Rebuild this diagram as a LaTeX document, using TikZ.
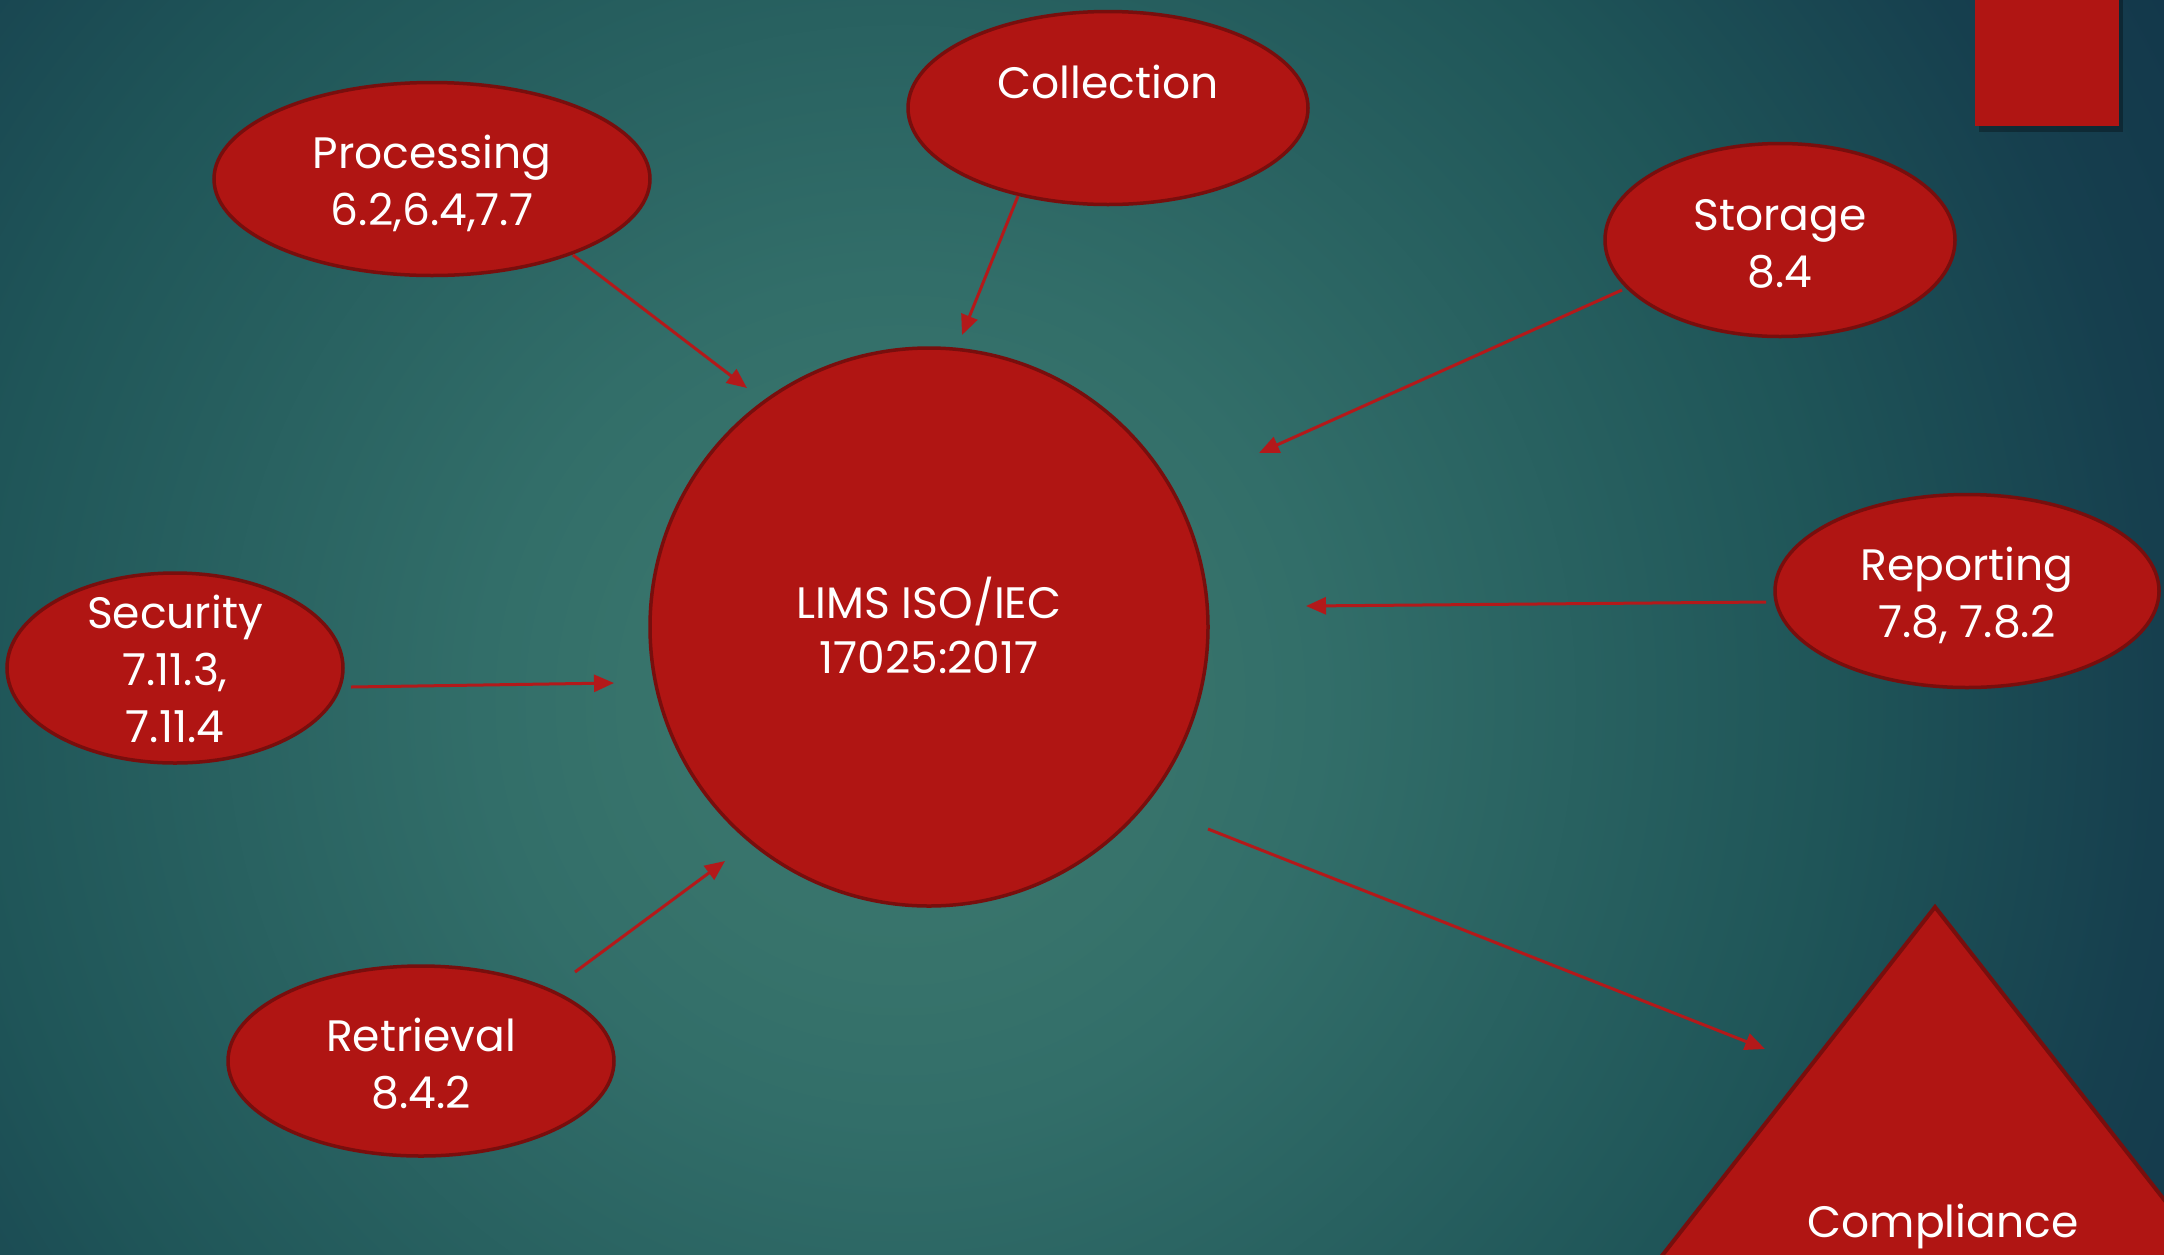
\documentclass[tikz,border=0pt]{standalone}
\usepackage{fontspec}
\setmainfont{Poppins}
\usetikzlibrary{shapes.geometric,arrows.meta}
\definecolor{redfill}{HTML}{B01513}
\definecolor{redline}{HTML}{780E0D}
\definecolor{arrowred}{HTML}{B3191A}
\definecolor{bga}{HTML}{3C796F}
\definecolor{bgb}{HTML}{37736B}
\definecolor{bgc}{HTML}{326E69}
\definecolor{bgd}{HTML}{1F5558}
\definecolor{bge}{HTML}{163F4E}
\definecolor{bgf}{HTML}{12364A}
\pgfdeclareradialshading{bgshade}{\pgfpoint{0bp}{0bp}}{color(0bp)=(bga); color(4.5bp)=(bgb); color(7bp)=(bgc); color(15.5bp)=(bgd); color(21bp)=(bge); color(25bp)=(bgf); color(50bp)=(bgf)}
\begin{document}
\begin{tikzpicture}[x=1pt,y=-1pt,
  blob/.style={ellipse,fill=redfill,draw=redline,line width=3.5pt,inner sep=0pt},
  lbl/.style={text=white,align=center,inner sep=0pt,font=\fontsize{44}{57}\selectfont},
  conn/.style={draw=arrowred,line width=3pt,-{Triangle[length=20pt,width=17pt]}}]
\useasboundingbox (0,0) rectangle (2164,1254);
\begin{scope}
\clip (0,0) rectangle (2164,1254);
\shade[shading=bgshade] (900,700) circle[radius=1500];
% corner rectangle
\fill[black,opacity=0.3] (1979,0) rectangle (2123,132);
\fill[redfill] (1975,0) rectangle (2119,126);
% compliance triangle
\filldraw[fill=redfill,draw=redline,line width=4pt,line join=miter] (1935,907) -- (2321,1400) -- (1549,1400) -- cycle;
\end{scope}
\node[lbl] (tcomp) at (1943,1226) {Compliance};
% centre
\node[circle,fill=redfill,draw=redline,line width=3.5pt,minimum size=558pt,inner sep=0pt] (lims) at (929,627) {};
\node[lbl,font=\fontsize{44}{55}\selectfont] (tlims) at (929,625) {LIMS ISO/IEC\\17025:2017};
% ellipses
\node[blob,minimum width=400pt,minimum height=193pt] (coll) at (1108,108) {};
\node[lbl] (tcoll) at (1108,82) {Collection};
\node[blob,minimum width=436pt,minimum height=193pt] (proc) at (432,179) {};
\node[lbl] (tproc) at (432,183) {Processing\\6.2,6.4,7.7};
\node[blob,minimum width=350pt,minimum height=193pt] (stor) at (1780,240) {};
\node[lbl] (tstor) at (1780,244) {Storage\\8.4};
\node[blob,minimum width=384pt,minimum height=193pt] (repo) at (1967,591) {};
\node[lbl] (trepo) at (1967,595) {Reporting\\7.8, 7.8.2};
\node[blob,minimum width=336pt,minimum height=190pt] (secu) at (175,668) {};
\node[lbl] (tsecu) at (175,669) {Security\\7.11.3,\\7.11.4};
\node[blob,minimum width=386pt,minimum height=190pt] (retr) at (421,1061) {};
\node[lbl] (tretr) at (421,1064) {Retrieval\\8.4.2};
% arrow end points
\coordinate (p1) at (573,255);  \coordinate (p2) at (747,388);
\coordinate (c1) at (1018,196); \coordinate (c2) at (962,335);
\coordinate (s1) at (1622,290); \coordinate (s2) at (1259,453);
\coordinate (r1) at (1766,602); \coordinate (r2) at (1306,606);
\coordinate (e1) at (351,687);  \coordinate (e2) at (614,683);
\coordinate (v1) at (575,972);  \coordinate (v2) at (725,861);
\coordinate (m1) at (1208,829); \coordinate (m2) at (1765,1049);
\draw[conn] (p1) -- (p2);
\draw[conn] (c1) -- (c2);
\draw[conn] (s1) -- (s2);
\draw[conn] (r1) -- (r2);
\draw[conn] (e1) -- (e2);
\draw[conn] (v1) -- (v2);
\draw[conn] (m1) -- (m2);
\end{tikzpicture}
\end{document}
